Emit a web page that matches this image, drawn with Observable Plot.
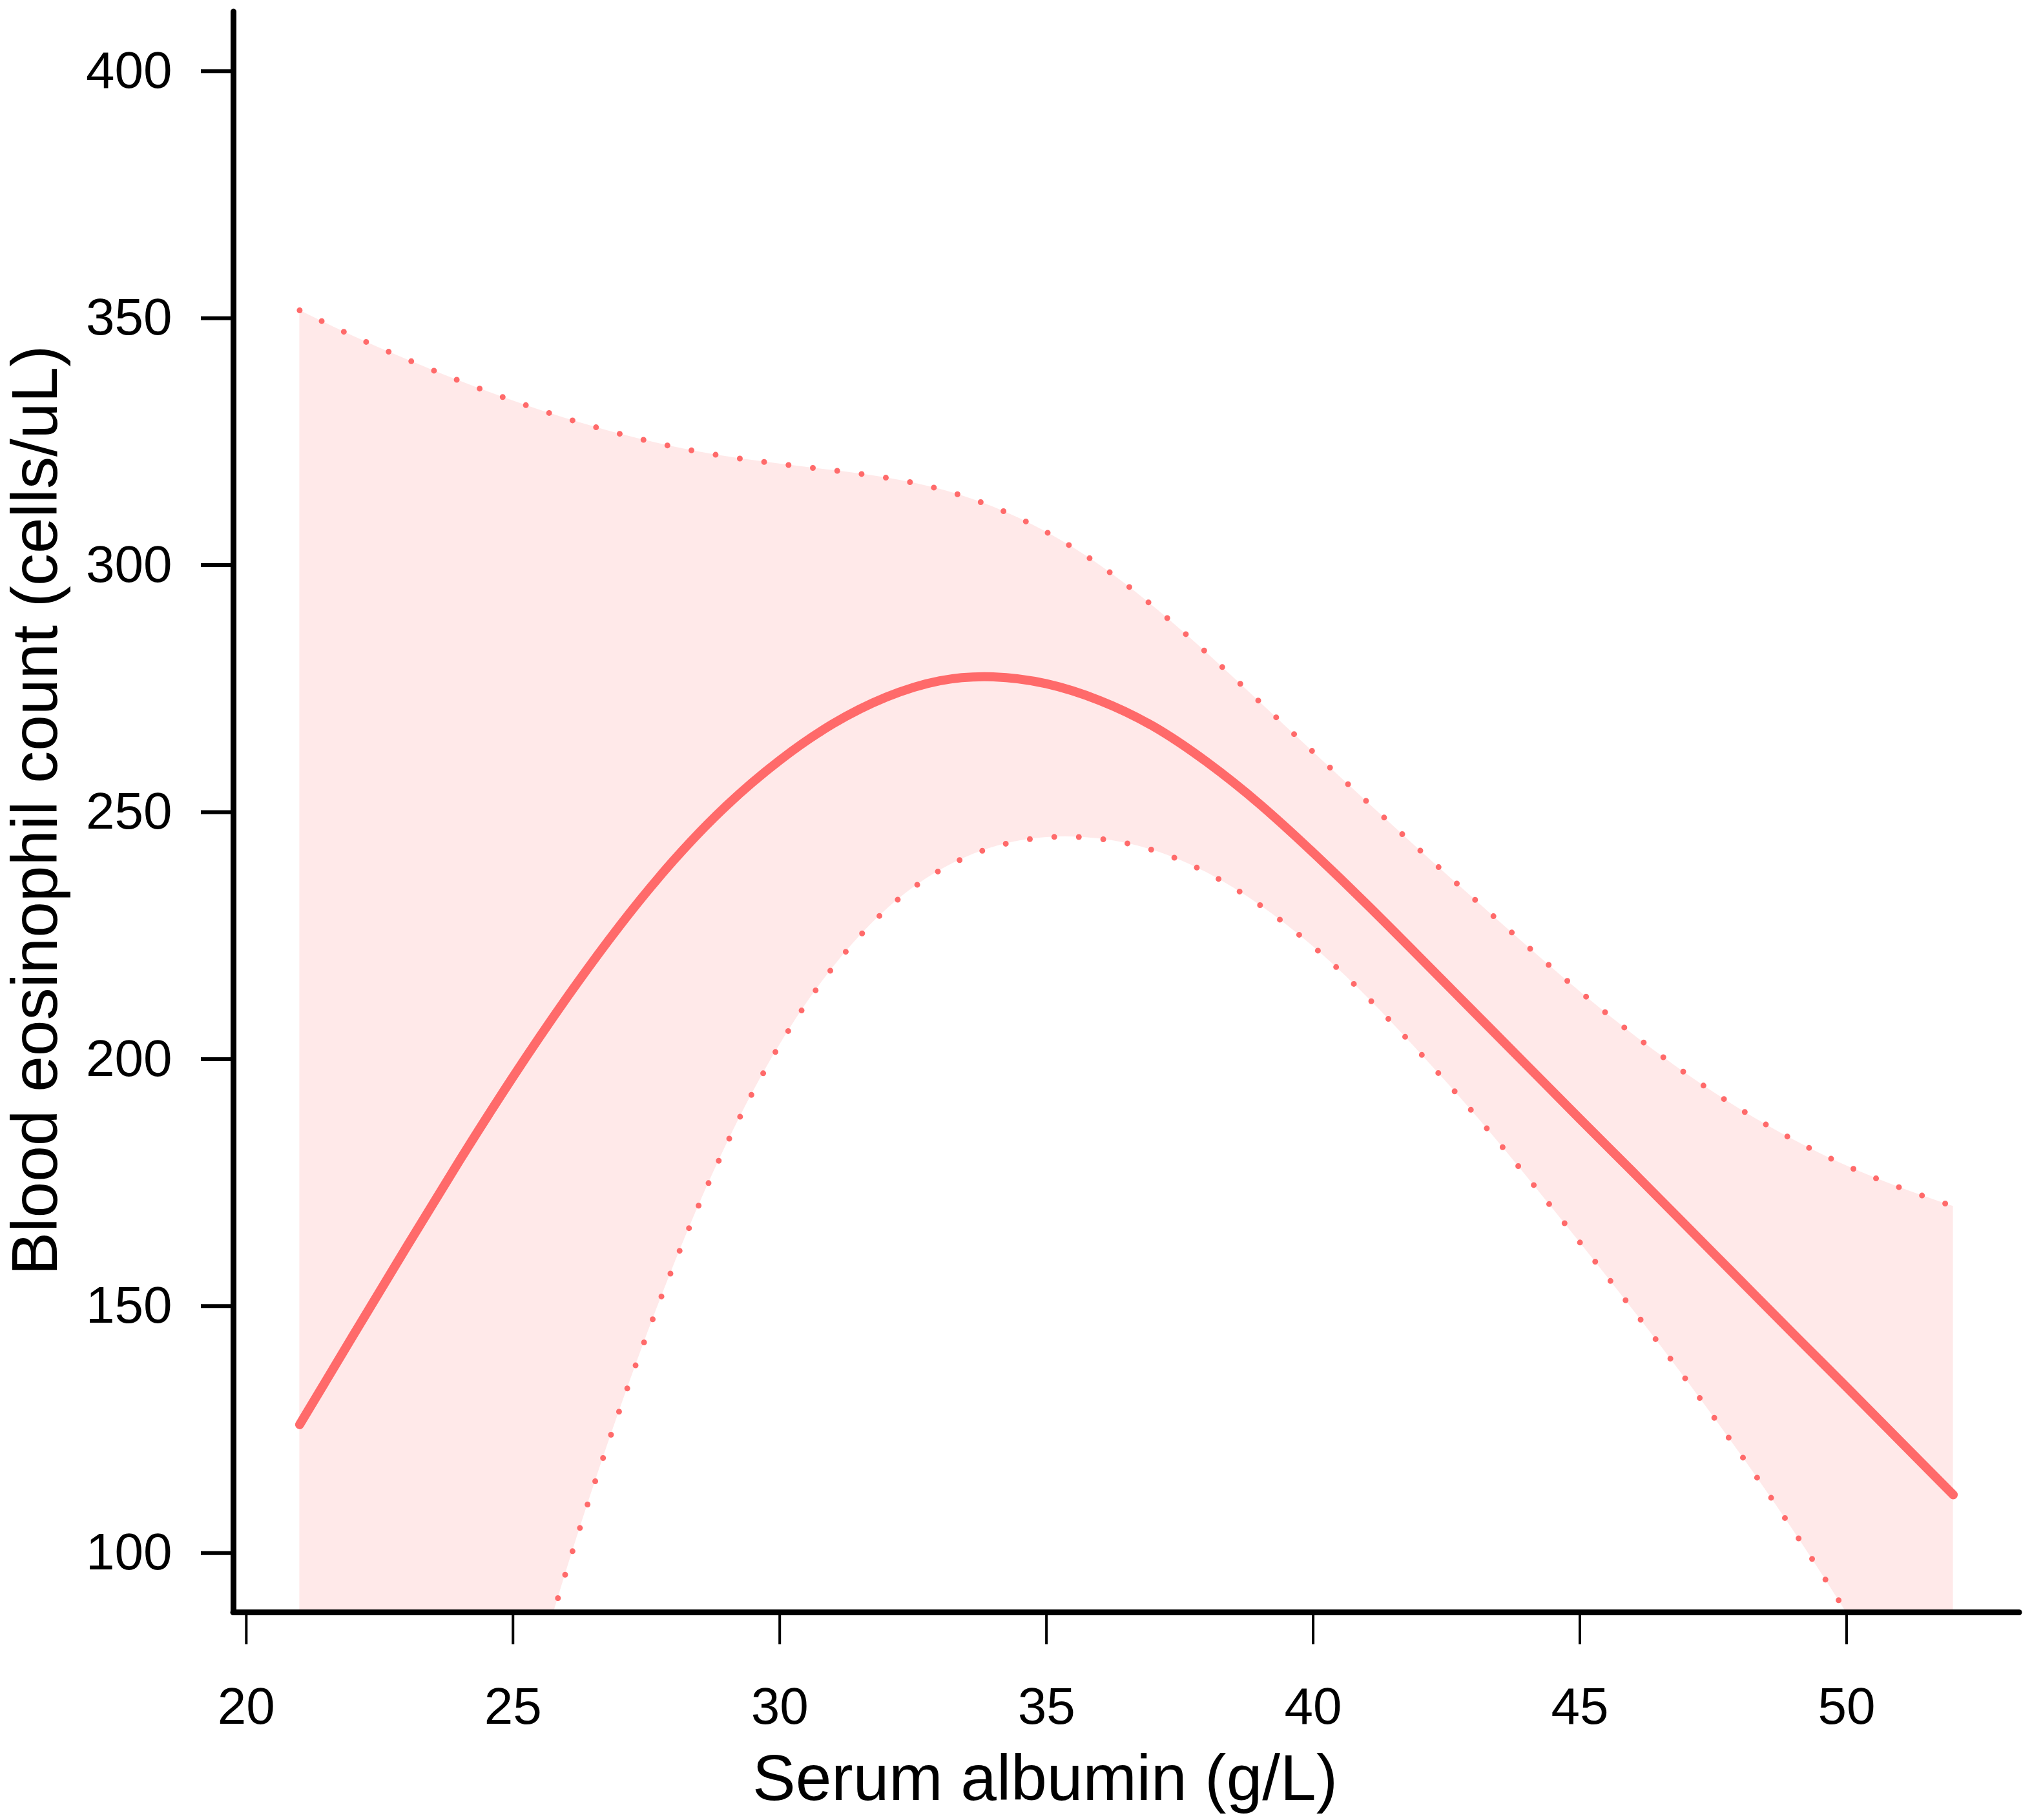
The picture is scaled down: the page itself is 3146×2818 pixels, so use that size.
<!DOCTYPE html>
<html>
<head>
<meta charset="utf-8">
<script src="https://cdn.jsdelivr.net/npm/d3@7"></script>
<script src="https://cdn.jsdelivr.net/npm/@observablehq/plot@0.6"></script>
<style>
  html, body { margin: 0; padding: 0; background: #ffffff; }
  #chart svg { display: block; }
</style>
</head>
<body>
<div id="chart"></div>
<script>
// Serum albumin (g/L)
const albumin = [21, 22, 23, 24, 25, 26, 27, 28, 29, 30, 31, 32, 33, 34, 35, 36,
                 37, 38, 39, 40, 41, 42, 43, 44, 45, 46, 47, 48, 49, 50, 51, 52];
// Fitted blood eosinophil count (cells/uL)
const fitted = [126.0, 144.0, 161.9, 179.5, 196.4, 212.3, 227.0, 240.1, 251.3, 260.5, 267.9, 273.3,
                276.6, 277.4, 276.0, 272.6, 267.4, 260.2, 251.6, 241.8, 231.4, 220.6, 209.7, 198.8,
                187.9, 177.1, 166.2, 155.3, 144.4, 133.6, 122.7, 111.8];
// Upper confidence limit
const upperCI = [351.6, 346.4, 341.7, 337.3, 333.3, 329.7, 326.6, 324.0, 322.0, 320.5, 319.2, 317.7,
                 315.4, 311.8, 306.7, 300.0, 291.7, 282.3, 272.3, 262.2, 252.2, 242.3, 232.6, 223.0,
                 213.7, 205.0, 197.0, 189.9, 183.7, 178.4, 174.0, 170.2];
// Lower confidence limit (values below the axis are cut off by the plot frame)
const lowerCI = [-106, -61.5, -19, 21.5, 60, 96.4, 129.0, 157.9, 182.7, 202.9, 218.6, 230.3,
                 238.2, 242.9, 244.9, 244.6, 242.3, 237.8, 231.2, 222.8, 212.7, 201.3, 189.2, 176.3,
                 162.9, 149.2, 135.0, 120.2, 104.6, 87.9, 70.3, 51.9];

const xTicks = [20, 25, 30, 35, 40, 45, 50];
const yTicks = [100, 150, 200, 250, 300, 350, 400];
const xDomain = [19.76, 53.24];
const yDomain = [88, 412];
const xTitle = "Serum albumin (g/L)";
const yTitle = "Blood eosinophil count (cells/uL)";

const rows = albumin.map((x, i) => ({x, fit: fitted[i], upper: upperCI[i], lower: lowerCI[i]}));

const red = "#FF6A6A";
const font = "'Liberation Sans', Arial, Helvetica, sans-serif";

const chart = Plot.plot({
  width: 3146,
  height: 2818,
  marginLeft: 361,
  marginRight: 20,
  marginTop: 18,
  marginBottom: 322,
  style: {fontFamily: font, fontSize: "80px", color: "black", background: "white", overflow: "visible"},
  x: {domain: xDomain, label: null},
  y: {domain: yDomain, label: null},
  marks: [
    Plot.areaY(rows, {x: "x", y1: "lower", y2: "upper", fill: red, fillOpacity: 0.15, curve: "natural", clip: true}),
    Plot.line(rows, {x: "x", y: "upper", stroke: red, strokeWidth: 9, strokeDasharray: "0 38", strokeLinecap: "round", curve: "natural", clip: true}),
    Plot.line(rows, {x: "x", y: "lower", stroke: red, strokeWidth: 9, strokeDasharray: "0 38", strokeLinecap: "round", curve: "natural", clip: true}),
    Plot.line(rows, {x: "x", y: "fit", stroke: red, strokeWidth: 14, strokeLinecap: "round", strokeLinejoin: "round", curve: "natural"}),
    Plot.axisX({ticks: xTicks, tickSize: 50, tickPadding: 66, strokeWidth: 4, fontSize: 80, label: null, tickFormat: d => String(d)}),
    Plot.axisY({ticks: yTicks, tickSize: 50, tickPadding: 45, strokeWidth: 6, fontSize: 80, label: null, tickFormat: d => String(d)}),
    Plot.ruleX([xDomain[0]], {stroke: "black", strokeWidth: 9, strokeLinecap: "round"}),
    Plot.ruleY([yDomain[0]], {stroke: "black", strokeWidth: 9, strokeLinecap: "round"}),
    Plot.text([xTitle], {frameAnchor: "bottom", dx: -126, dy: 290, textAnchor: "middle", lineAnchor: "bottom", fontSize: 100, fill: "black", text: d => d}),
    Plot.text([yTitle], {frameAnchor: "left", rotate: -90, dx: -274, dy: -3, textAnchor: "middle", lineAnchor: "bottom", fontSize: 100, fill: "black", text: d => d})
  ]
});
document.getElementById("chart").appendChild(chart);
</script>
</body>
</html>
